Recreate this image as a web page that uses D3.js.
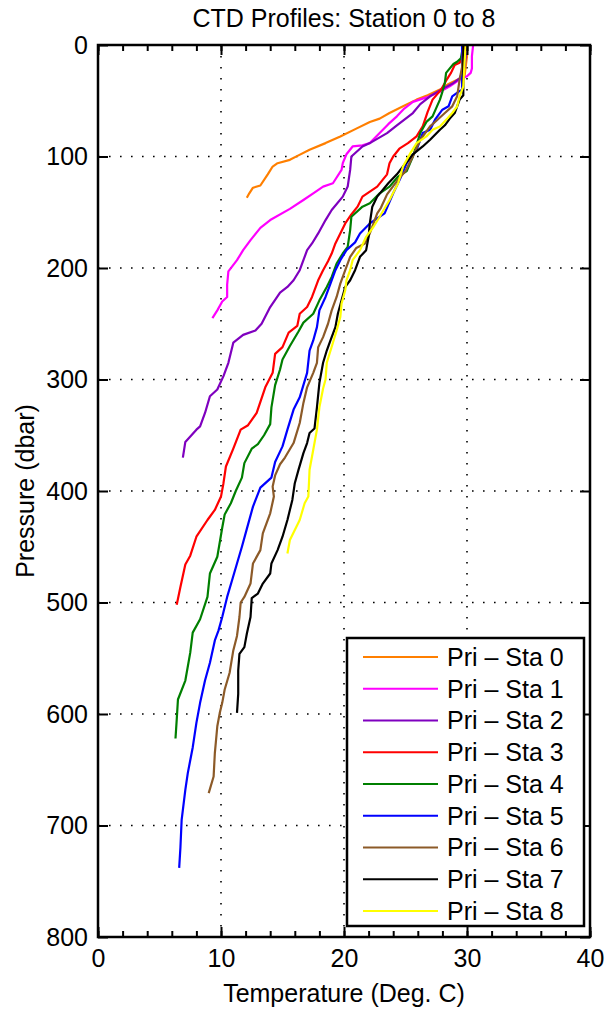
<!DOCTYPE html>
<meta charset="utf-8">
<style>
body { margin: 0; background: #fff; }
text { font-family: "Liberation Sans", Arial, sans-serif; }
</style>
<body>
<script src="https://d3js.org/d3.v7.min.js"></script>
<script>

// station names and line colours
var names = ["Pri \u2013 Sta 0", "Pri \u2013 Sta 1", "Pri \u2013 Sta 2", "Pri \u2013 Sta 3", "Pri \u2013 Sta 4",
             "Pri \u2013 Sta 5", "Pri \u2013 Sta 6", "Pri \u2013 Sta 7", "Pri \u2013 Sta 8"];
var colors = ["#ff7f00", "#ff00ff", "#7f00bf", "#ff0000", "#007f00", "#0000ff", "#8c5a28", "#000000", "#ffff00"];

// axis ticks
var xTicks = [0, 10, 20, 30, 40];
var xMinor = [0, 2, 4, 6, 8, 10, 12, 14, 16, 18, 20, 22, 24, 26, 28, 30, 32, 34, 36, 38, 40];
var yTicks = [0, 100, 200, 300, 400, 500, 600, 700, 800];

// profiles: [temperature (deg C), pressure (dbar)]
var sta0 = [[30.0,0],[30.0,10],[29.9,19],[29.8,28],[28.5,35],[27.8,40],[26.8,45],[25.9,49],[24.8,55],[23.7,61],
  [22.9,66],[22.1,69],[21.0,75],[19.7,82],[18.5,88],[17.2,94],[16.3,99],[15.6,103],[14.6,106],[14.2,109],
  [13.8,116],[13.2,126],[12.6,128],[12.3,133],[12.1,137]];
var sta1 = [[30.5,0],[30.4,10],[30.4,21],[30.3,25],[30.0,28],[29.4,31],[28.6,37],[27.8,42],[26.7,47],[25.6,51],
  [24.9,57],[24.3,64],[23.6,71],[22.9,79],[22.1,88],[21.5,90],[20.7,91],[20.2,98],[19.9,106],[19.8,112],
  [19.1,124],[18.3,127],[17.5,133],[16.7,139],[15.6,147],[14.0,157],[13.2,164],[12.4,175],[11.8,184],[11.3,193],
  [10.6,203],[10.5,215],[10.5,226],[10.1,230],[9.7,238],[9.3,245]];
var sta2 = [[30.0,0],[29.8,20],[29.4,30],[28.9,34],[27.9,40],[27.0,46],[26.2,53],[25.6,61],[24.3,72],[23.5,79],
  [22.1,88],[21.5,91],[20.6,100],[20.5,112],[20.3,127],[19.9,136],[19.0,148],[18.5,157],[17.9,169],[17.4,178],
  [17.0,184],[16.7,193],[16.4,202],[15.9,211],[15.4,217],[14.8,222],[14.0,235],[13.3,250],[12.8,256],[11.8,260],
  [11.0,267],[10.6,285],[10.2,297],[9.7,309],[9.1,315],[8.7,330],[8.3,342],[8.0,345],[7.1,356],[6.9,370]];
var sta3 = [[29.8,0],[29.6,10],[29.4,16],[29.0,18],[28.7,25],[28.3,32],[27.9,40],[27.2,49],[26.8,60],[26.4,73],
  [25.9,82],[25.2,88],[24.5,93],[24.0,100],[23.7,106],[23.5,116],[22.7,127],[21.5,136],[21.1,145],[20.6,152],
  [20.1,160],[19.7,169],[19.3,178],[19.0,187],[18.7,194],[18.3,202],[17.9,211],[17.4,226],[17.0,235],[16.4,241],
  [16.2,252],[15.5,258],[15.0,271],[14.4,277],[14.2,294],[13.6,307],[12.9,330],[12.2,341],[11.6,345],[11.0,362],
  [10.4,378],[10.2,393],[10.0,405],[9.5,417],[8.9,426],[8.0,441],[7.5,458],[7.1,466],[6.7,486],[6.4,502]];
var sta4 = [[29.7,0],[29.5,12],[29.2,15],[28.9,17],[28.6,21],[28.3,25],[28.2,34],[28.0,42],[27.8,49],[27.2,64],
  [26.7,69],[26.2,79],[25.6,100],[25.1,113],[24.4,118],[23.7,127],[22.9,133],[22.1,142],[21.5,145],[20.6,154],
  [20.5,166],[20.3,181],[19.9,187],[19.4,196],[19.0,208],[18.6,217],[18.0,229],[17.5,241],[16.7,249],[16.3,257],
  [15.6,270],[15.0,282],[14.8,291],[14.4,305],[14.1,325],[14.0,340],[13.5,350],[13.0,358],[12.5,362],[11.9,375],
  [11.7,388],[11.2,400],[10.8,411],[10.3,421],[10.1,433],[9.7,459],[9.1,474],[8.9,495],[8.3,515],[7.7,527],
  [7.5,545],[7.1,570],[6.5,587],[6.4,605],[6.3,622]];
var sta5 = [[29.6,0],[29.6,20],[29.6,40],[29.3,42],[28.8,46],[28.5,55],[28.0,58],[27.4,67],[27.0,76],[26.4,79],
  [25.9,94],[25.1,106],[24.6,119],[24.0,133],[23.3,151],[22.1,160],[21.3,169],[20.9,177],[20.2,184],[19.7,193],
  [19.3,202],[18.9,214],[18.5,226],[18.0,238],[17.8,253],[17.5,265],[17.2,274],[17.0,294],[16.4,316],[15.9,327],
  [15.4,345],[15.0,360],[14.4,374],[14.1,388],[13.2,397],[12.6,414],[12.1,434],[11.7,450],[11.3,465],[10.9,480],
  [10.5,495],[10.1,513],[9.8,525],[9.5,534],[9.1,554],[8.7,570],[8.3,590],[8.0,608],[7.7,630],[7.3,653],
  [7.1,668],[6.8,695],[6.7,720],[6.6,738]];
var sta6 = [[29.7,0],[29.6,20],[29.4,31],[29.2,46],[28.8,55],[28.2,61],[27.6,67],[27.0,73],[26.2,85],[25.6,100],
  [25.0,113],[24.3,122],[23.5,134],[23.0,146],[22.7,151],[22.1,169],[21.7,178],[21.0,182],[20.5,190],[20.1,202],
  [19.7,214],[19.4,226],[19.0,238],[18.7,250],[18.3,262],[17.9,271],[17.8,285],[17.5,294],[17.0,307],[16.7,321],
  [16.4,339],[15.9,357],[15.2,370],[14.8,376],[14.4,386],[14.2,396],[14.3,405],[14.0,420],[13.4,438],[13.2,453],
  [12.6,465],[12.4,483],[11.9,495],[11.6,500],[11.5,513],[11.3,530],[11.0,543],[10.7,563],[10.3,578],[10.1,590],
  [9.9,599],[9.7,611],[9.5,635],[9.4,656],[9.0,671]];
var sta7 = [[29.7,0],[29.7,20],[29.7,45],[29.4,49],[29.0,61],[28.6,66],[28.2,72],[27.8,76],[27.0,85],[26.4,91],
  [25.6,98],[24.8,109],[24.3,116],[23.6,124],[22.7,136],[22.3,145],[22.1,160],[22.0,172],[21.8,184],[21.3,190],
  [20.9,202],[20.5,211],[20.1,217],[19.8,229],[19.5,241],[19.3,253],[18.9,265],[18.6,274],[18.3,285],[18.0,303],
  [17.8,325],[17.6,344],[17.2,348],[17.0,357],[16.7,366],[16.3,381],[16.0,393],[15.8,408],[15.4,426],[15.0,441],
  [14.6,453],[14.1,465],[14.0,474],[13.4,483],[13.0,492],[12.5,496],[12.4,513],[12.1,528],[11.9,540],[11.5,546],
  [11.4,561],[11.4,582],[11.3,599]];
var sta8 = [[29.9,0],[29.8,16],[29.7,37],[29.4,46],[29.2,55],[28.8,61],[28.4,66],[27.8,73],[27.2,76],[26.7,82],
  [25.9,88],[25.4,97],[24.8,109],[24.4,124],[23.7,139],[22.9,154],[22.4,163],[21.8,172],[21.3,184],[20.7,193],
  [20.5,202],[20.2,211],[20.1,220],[19.8,232],[19.7,244],[19.4,256],[19.1,267],[18.6,285],[18.5,300],[18.3,308],
  [18.0,325],[17.8,345],[17.5,363],[17.2,381],[17.1,405],[16.8,411],[16.4,426],[15.6,444],[15.4,456]];

var profiles = [sta0, sta1, sta2, sta3, sta4, sta5, sta6, sta7, sta8];

// set the dimensions and margins of the graph
var margin = {top: 45, right: 15, bottom: 73, left: 98},
    width = 605 - margin.left - margin.right,
    height = 1010 - margin.top - margin.bottom;

var x = d3.scaleLinear().domain([0, 40]).range([0, width]);
var y = d3.scaleLinear().domain([0, 800]).range([0, height]);

var root = d3.select("body").append("svg")
    .attr("width", 605)
    .attr("height", 1010);

var svg = root.append("g")
    .attr("transform", "translate(" + margin.left + "," + margin.top + ")");

// dotted grid
svg.append("g").selectAll("line")
    .data(xTicks.slice(1, -1))
  .enter().append("line")
    .attr("x1", function(d) { return x(d); })
    .attr("x2", function(d) { return x(d); })
    .attr("y1", 0).attr("y2", height)
    .attr("stroke", "#000").attr("stroke-width", 1.6)
    .attr("stroke-dasharray", "1.6,9.4");

svg.append("g").selectAll("line")
    .data(yTicks.slice(1, -1))
  .enter().append("line")
    .attr("y1", function(d) { return y(d); })
    .attr("y2", function(d) { return y(d); })
    .attr("x1", 0).attr("x2", width)
    .attr("stroke", "#000").attr("stroke-width", 1.6)
    .attr("stroke-dasharray", "1.6,9.4");

// the profiles
var line = d3.line()
    .x(function(d) { return x(d[0]); })
    .y(function(d) { return y(d[1]); });

svg.append("g").selectAll("path")
    .data(profiles)
  .enter().append("path")
    .attr("d", line)
    .attr("fill", "none")
    .attr("stroke", function(d, i) { return colors[i]; })
    .attr("stroke-width", 2.2)
    .attr("stroke-linejoin", "round");

// axes, ticks pointing inwards
function styleAxis(g) {
  g.select(".domain").remove();
  g.selectAll(".tick line").attr("stroke", "#000").attr("stroke-width", 2);
  g.selectAll("text").attr("fill", "#000").style("font-size", "25px")
    .style("font-family", '"Liberation Sans", Arial, sans-serif');
}

svg.append("g")
    .attr("transform", "translate(0," + height + ")")
    .call(d3.axisBottom(x).tickValues(xTicks).tickSize(-10).tickPadding(12).tickFormat(d3.format("d")))
    .call(styleAxis);
svg.append("g")
    .attr("transform", "translate(0," + height + ")")
    .call(d3.axisBottom(x).tickValues(xMinor).tickSize(-6).tickFormat(""))
    .call(styleAxis);
svg.append("g")
    .call(d3.axisTop(x).tickValues(xTicks).tickSize(-10).tickFormat(""))
    .call(styleAxis);
svg.append("g")
    .call(d3.axisTop(x).tickValues(xMinor).tickSize(-6).tickFormat(""))
    .call(styleAxis);
svg.append("g")
    .call(d3.axisLeft(y).tickValues(yTicks).tickSize(-10).tickPadding(10).tickFormat(d3.format("d")))
    .call(styleAxis);
svg.append("g")
    .attr("transform", "translate(" + width + ",0)")
    .call(d3.axisRight(y).tickValues(yTicks).tickSize(-10).tickFormat(""))
    .call(styleAxis);

// frame
svg.append("rect")
    .attr("width", width).attr("height", height)
    .attr("fill", "none").attr("stroke", "#000").attr("stroke-width", 2.5);

// legend
var legend = svg.append("g")
    .attr("transform", "translate(" + (width - 243) + "," + (height - 299) + ")");

legend.append("rect")
    .attr("width", 237).attr("height", 288)
    .attr("fill", "#fff").attr("stroke", "#000").attr("stroke-width", 2.5);

var item = legend.selectAll(".legend")
    .data(names)
  .enter().append("g")
    .attr("class", "legend")
    .attr("transform", function(d, i) { return "translate(0," + (19 + i * 31.75) + ")"; });

item.append("line")
    .attr("x1", 16).attr("x2", 91)
    .attr("stroke", function(d, i) { return colors[i]; })
    .attr("stroke-width", 2.2);

item.append("text")
    .attr("x", 100)
    .attr("dy", "0.35em")
    .style("font-size", "25px")
    .text(function(d) { return d; });

// title and axis labels
root.append("text")
    .attr("x", margin.left + width / 2).attr("y", 27)
    .attr("text-anchor", "middle")
    .style("font-size", "25px")
    .text("CTD Profiles: Station 0 to 8");

root.append("text")
    .attr("x", margin.left + width / 2).attr("y", 1002)
    .attr("text-anchor", "middle")
    .style("font-size", "25px")
    .text("Temperature (Deg. C)");

root.append("text")
    .attr("text-anchor", "middle")
    .attr("transform", "translate(34," + (margin.top + height / 2) + ")rotate(-90)")
    .style("font-size", "25px")
    .text("Pressure (dbar)");

</script>
</body>
